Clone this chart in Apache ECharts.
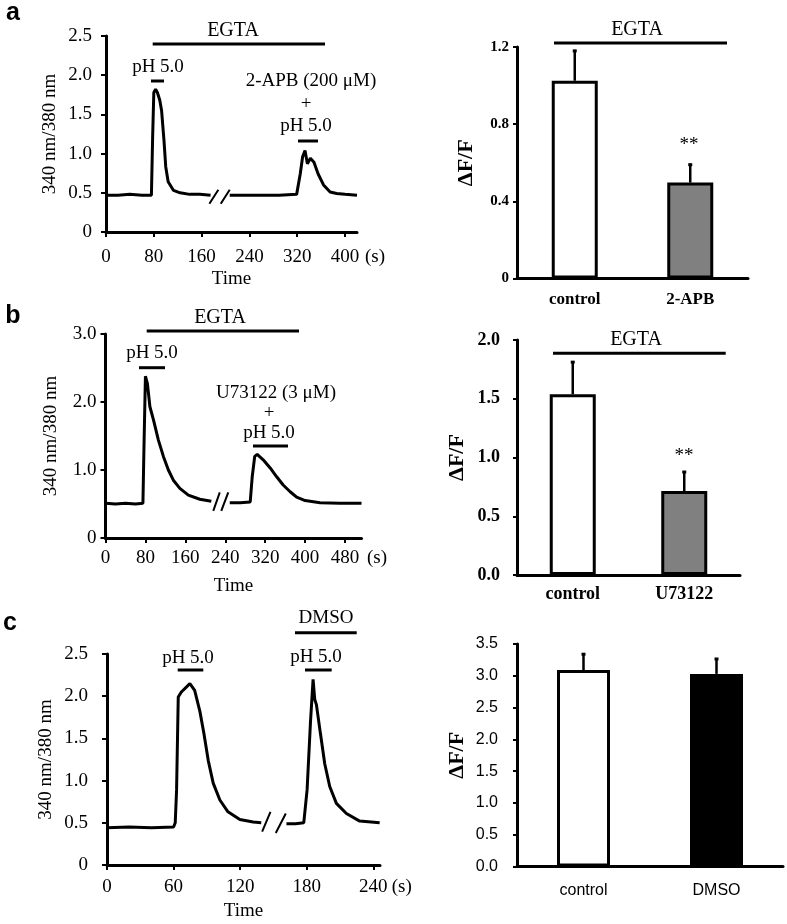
<!DOCTYPE html>
<html>
<head>
<meta charset="utf-8">
<script src="https://cdn.jsdelivr.net/npm/echarts@6/dist/echarts.min.js"></script>
<style>
  html, body { margin: 0; padding: 0; background: #fff; }
  #chart { width: 787px; height: 924px; }
</style>
</head>
<body>
<div id="chart"></div>
<script>
// traces: [time (s), 340/380 ratio]; '-' marks the axis break
var traceA = [[0, 0.47], [20, 0.47], [40, 0.48], [60, 0.47], [76, 0.47], [78, 1.2], [80, 1.78], [83, 1.82], [86, 1.78],
  [90, 1.68], [93, 1.55], [97, 1.17], [100, 0.83], [104, 0.64], [113, 0.53], [124, 0.5], [140, 0.48], [157, 0.48],
  [175, 0.47], [176, '-'], [207, 0.47], [230, 0.47], [260, 0.47], [290, 0.47], [319, 0.48], [325, 0.74], [329, 0.96],
  [333, 1.04], [337, 0.87], [342, 0.94], [348, 0.89], [355, 0.74], [364, 0.6], [375, 0.51], [386, 0.49], [400, 0.48], [420, 0.47]];
var breakA = [[173, 0.36], [188, 0.54], [190, '-'], [192, 0.36], [207, 0.54]];

var traceB = [[0, 0.51], [20, 0.5], [40, 0.51], [60, 0.5], [75, 0.51], [77, 1.3], [80, 2.38], [84, 2.27], [89, 1.93],
  [96, 1.74], [106, 1.44], [116, 1.2], [126, 1.0], [136, 0.85], [149, 0.73], [166, 0.63], [189, 0.57], [212, 0.54],
  [213, '-'], [249, 0.52], [270, 0.52], [290, 0.53], [294, 0.9], [299, 1.2], [304, 1.23], [316, 1.15], [330, 1.03],
  [343, 0.9], [356, 0.78], [370, 0.68], [383, 0.6], [400, 0.55], [430, 0.52], [470, 0.51], [513, 0.51]];
var breakB = [[216, 0.4], [229, 0.67], [230, '-'], [232, 0.4], [246, 0.67]];

var traceC = [[0, 0.44], [20, 0.45], [40, 0.44], [60, 0.45], [61.5, 0.5], [62.7, 0.89], [64.2, 1.99], [67, 2.05],
  [71.7, 2.11], [74.7, 2.15], [79, 2.07], [83.7, 1.82], [87.3, 1.56], [91.2, 1.24], [95.7, 0.97], [101.7, 0.77],
  [109, 0.63], [119.7, 0.54], [131.7, 0.51], [139, 0.5], [140, '-'], [161.7, 0.49], [170, 0.49], [177.3, 0.5],
  [180.3, 0.89], [183.3, 1.68], [185.7, 2.2], [187.2, 1.96], [188.7, 1.9], [192.3, 1.56], [196.2, 1.2], [200.7, 0.93],
  [206.7, 0.73], [215.7, 0.61], [227.7, 0.52], [245.7, 0.5]];
var breakC = [[139.8, 0.395], [147.3, 0.63], [148, '-'], [152.1, 0.38], [161.1, 0.61]];

var xTicksA = [0, 80, 160, 240, 320, 400];
var xTicksB = [0, 80, 160, 240, 320, 400, 480];
var xTicksC = [0, 60, 120, 180, 240];

// bar panels: mean and upper error (ΔF/F)
var barCatsA = ['control', '2-APB'];
var barMeanA = [1.025, 0.497];
var barErrA = [0.16, 0.098];
var barCatsB = ['control', 'U73122'];
var barMeanB = [1.538, 0.715];
var barErrB = [0.282, 0.17];
var barCatsC = ['control', 'DMSO'];
var barMeanC = [3.09, 3.03];
var barErrC = [0.265, 0.25];

var SERIF = '"Liberation Serif", "Times New Roman", serif';
var SANS = '"Liberation Sans", Arial, sans-serif';

var chart = echarts.init(document.getElementById('chart'));

function oneDec(v) { return v === 0 ? '0' : v.toFixed(1); }

function traceX(gi, max, ticks, margin, gap) {
  return {
    type: 'value', gridIndex: gi, min: 0, max: max,
    name: 'Time', nameLocation: 'middle', nameGap: gap,
    nameTextStyle: { fontFamily: SERIF, fontSize: 19, color: '#000' },
    axisLine: { show: true, lineStyle: { color: '#000', width: 3 } },
    axisTick: { show: true, customValues: ticks, length: 5, lineStyle: { color: '#000', width: 2 } },
    axisLabel: { customValues: ticks, margin: margin, fontFamily: SERIF, fontSize: 19, color: '#000' },
    splitLine: { show: false }
  };
}

function traceY(gi, max, step, margin, gap) {
  return {
    type: 'value', gridIndex: gi, min: 0, max: max, interval: step,
    name: '340 nm/380 nm', nameLocation: 'middle', nameGap: gap,
    nameTextStyle: { fontFamily: SERIF, fontSize: 19, color: '#000' },
    axisLine: { show: true, lineStyle: { color: '#000', width: 3 } },
    axisTick: { show: true, length: 5, lineStyle: { color: '#000', width: 2 } },
    axisLabel: { margin: margin, fontFamily: SERIF, fontSize: 19, color: '#000', formatter: oneDec },
    splitLine: { show: false }
  };
}

function barX(gi, cats, margin, font) {
  return {
    type: 'category', gridIndex: gi, data: cats,
    axisLine: { show: true, lineStyle: { color: '#000', width: 3 } },
    axisTick: { show: false },
    axisLabel: Object.assign({ margin: margin, color: '#000' }, font)
  };
}

function barY(gi, max, step, margin, gap, font, fmt) {
  return {
    type: 'value', gridIndex: gi, min: 0, max: max, interval: step,
    name: 'ΔF/F', nameLocation: 'middle', nameGap: gap,
    nameTextStyle: { fontFamily: SERIF, fontWeight: 'bold', fontSize: 22, color: '#000' },
    axisLine: { show: true, lineStyle: { color: '#000', width: 3 } },
    axisTick: { show: true, length: 4, lineStyle: { color: '#000', width: 2 } },
    axisLabel: Object.assign({ margin: margin, color: '#000', formatter: fmt }, font),
    splitLine: { show: false }
  };
}

function traceSeries(idx, data, width) {
  return {
    type: 'line', xAxisIndex: idx, yAxisIndex: idx, data: data,
    showSymbol: false, symbol: 'none', connectNulls: false,
    lineStyle: { color: '#000', width: width }
  };
}

function barSeries(idx, vals, fills, width) {
  return {
    type: 'bar', xAxisIndex: idx, yAxisIndex: idx, barWidth: width,
    data: vals.map(function (v, i) {
      return { value: v, itemStyle: { color: fills[i], borderColor: '#000', borderWidth: 3 } };
    })
  };
}

function errSeries(idx, vals, errs) {
  return {
    type: 'custom', xAxisIndex: idx, yAxisIndex: idx, z: 3,
    data: vals.map(function (v, i) { return [i, v, errs[i]]; }),
    renderItem: function (params, api) {
      var base = api.coord([api.value(0), api.value(1)]);
      var top = api.coord([api.value(0), api.value(1) + api.value(2)]);
      return {
        type: 'group',
        children: [
          { type: 'line', shape: { x1: base[0], y1: base[1], x2: top[0], y2: top[1] }, style: { stroke: '#000', lineWidth: 2.5 } },
          { type: 'line', shape: { x1: top[0] - 2, y1: top[1] + 1, x2: top[0] + 2, y2: top[1] + 1 }, style: { stroke: '#000', lineWidth: 3 } }
        ]
      };
    }
  };
}

function label(x, y, text, font) {
  return {
    type: 'text', silent: true, z: 10,
    style: {
      text: text, x: x, y: y, font: font || ('19px ' + SERIF), fill: '#000',
      align: 'center', verticalAlign: 'middle', textAlign: 'center', textVerticalAlign: 'middle'
    }
  };
}

function hbar(x1, x2, y) {
  return {
    type: 'line', silent: true, z: 10,
    shape: { x1: x1, y1: y, x2: x2, y2: y },
    style: { stroke: '#000', lineWidth: 3 }
  };
}

var letterFont = 'bold 25px ' + SANS;
var starFont = '19px ' + SERIF;
var egtaFont = '20px ' + SERIF;

var option = {
  animation: false,
  backgroundColor: '#fff',
  grid: [
    { left: 106, top: 36, width: 251, height: 196, outerBoundsMode: 'none' },
    { left: 517, top: 47, width: 231, height: 231.5, outerBoundsMode: 'none' },
    { left: 105.5, top: 334, width: 256, height: 204, outerBoundsMode: 'none' },
    { left: 517, top: 340, width: 223, height: 235, outerBoundsMode: 'none' },
    { left: 107, top: 654, width: 273, height: 211, outerBoundsMode: 'none' },
    { left: 517, top: 644, width: 266, height: 222.5, outerBoundsMode: 'none' }
  ],
  xAxis: [
    traceX(0, 420, xTicksA, 16, 38),
    barX(1, barCatsA, 13, { fontFamily: SERIF, fontWeight: 'bold', fontSize: 17 }),
    traceX(2, 513, xTicksB, 11, 39),
    barX(3, barCatsB, 10, { fontFamily: SERIF, fontWeight: 'bold', fontSize: 18 }),
    traceX(4, 246, xTicksC, 13, 37),
    barX(5, barCatsC, 16, { fontFamily: SANS, fontSize: 16 })
  ],
  yAxis: [
    traceY(0, 2.5, 0.5, 14, 46),
    barY(1, 1.2, 0.4, 8, 40, { fontFamily: SERIF, fontWeight: 'bold', fontSize: 15 }, oneDec),
    traceY(2, 3, 1, 9, 45),
    barY(3, 2, 0.5, 17, 49, { fontFamily: SERIF, fontWeight: 'bold', fontSize: 18 }, function (v) { return v.toFixed(1); }),
    traceY(4, 2.5, 0.5, 19, 51),
    barY(5, 3.5, 0.5, 19, 49, { fontFamily: SANS, fontSize: 16 }, function (v) { return v.toFixed(1); })
  ],
  series: [
    traceSeries(0, traceA, 3),
    traceSeries(0, breakA, 2),
    barSeries(1, barMeanA, ['#ffffff', '#808080'], 46),
    errSeries(1, barMeanA, barErrA),
    traceSeries(2, traceB, 3),
    traceSeries(2, breakB, 2),
    barSeries(3, barMeanB, ['#ffffff', '#808080'], 46),
    errSeries(3, barMeanB, barErrB),
    traceSeries(4, traceC, 3),
    traceSeries(4, breakC, 2),
    barSeries(5, barMeanC, ['#ffffff', '#000000'], 53),
    errSeries(5, barMeanC, barErrC)
  ],
  graphic: [
    // panel a
    label(13, 13, 'a', letterFont),
    label(233, 31, 'EGTA', egtaFont), hbar(152.7, 325, 44),
    label(158, 67, 'pH 5.0'), hbar(151, 164, 81),
    label(311, 81, '2-APB (200 μM)'),
    label(306, 104, '+'),
    label(306, 126, 'pH 5.0'), hbar(298, 318, 141),
    label(375, 256.7, '(s)'),
    label(637, 30, 'EGTA', egtaFont), hbar(554, 727, 43),
    label(689, 145, '**', starFont),
    // panel b
    label(13, 316, 'b', letterFont),
    label(220, 318, 'EGTA', egtaFont), hbar(146.7, 299, 331),
    label(152, 352.7, 'pH 5.0'), hbar(139, 165, 367.7),
    label(276, 392.7, 'U73122 (3 μM)'),
    label(269, 413, '+'),
    label(269, 432.7, 'pH 5.0'), hbar(253, 288, 446),
    label(377, 558.3, '(s)'),
    label(636, 340, 'EGTA', egtaFont), hbar(553, 725.7, 353.3),
    label(684, 456, '**', starFont),
    // panel c
    label(10, 623, 'c', letterFont),
    label(188, 658, 'pH 5.0'), hbar(177.7, 203.3, 670),
    label(326, 618, 'DMSO'), hbar(295, 356.7, 632.7),
    label(316, 656.7, 'pH 5.0'), hbar(305, 331.7, 670),
    label(401.7, 886.7, '(s)')
  ]
};

chart.setOption(option);
</script>
</body>
</html>
